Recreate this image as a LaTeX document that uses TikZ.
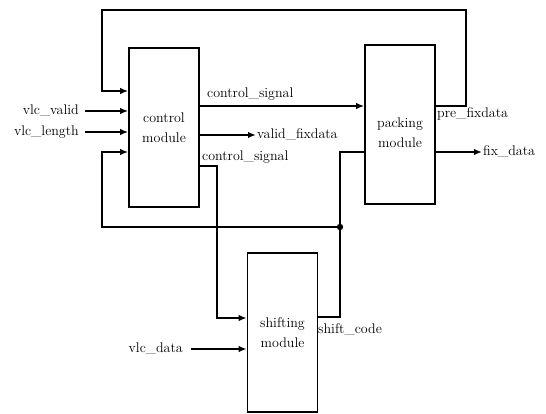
\documentclass[tikz,border=0pt]{standalone}
\usepackage{tikz}
\usetikzlibrary{arrows.meta,positioning,calc}
\newcommand{\blkfont}{\fontsize{14}{20}\selectfont}
\tikzset{
 module/.style={draw, line width=1.6pt, minimum width=70pt, minimum height=159pt, inner sep=0pt, align=center, font=\blkfont},
 wire/.style={line width=1.6pt},
 sig/.style={wire, -{Latex[length=8pt,width=6.5pt]}},
 lbl/.style={font=\blkfont, inner sep=1pt}
}

\begin{document}
\begin{tikzpicture}[x=1pt, y=-1pt]
 \useasboundingbox (0,0) rectangle (546,414);
 \node[module] (ctrl) at (164,127.5) {control\\module};
 \node[module] (pack) at (400,124.5) {};
 \node[lbl, align=center] (packtxt) at ([yshift=-8pt]pack.center) {packing\\module};
 \node[module] (shift) at (282.5,332.5) {shifting\\module};
 \foreach \n/\t/\y in {vvalid/vlc\_valid/111, vlength/vlc\_length/132} {
  \node[lbl, anchor=east] (\n) at (80,\y) {\t};
  \draw[sig, shorten <=5pt] (\n.east) -- (ctrl.west |- \n.east);
 }
 \coordinate (tr) at (466,10);
 \coordinate (tl) at (102,91);
 \draw[sig] (pack.east |- 0,106) -| (tr) -| (tl) -- (ctrl.west |- tl);
 \node[lbl, anchor=north west] (prefix) at (436,106) {pre\_fixdata};
 \draw[sig] (ctrl.east |- 0,106) -- (pack.west |- 0,106);
 \node[lbl, anchor=base west] (csigtop) at (206,98) {control\_signal};
 \node[lbl, anchor=west] (vfix) at (256,135) {valid\_fixdata};
 \draw[sig] (ctrl.east |- vfix.west) -- (vfix.west);
 \node[lbl, anchor=base west] (csigbot) at (201,161) {control\_signal};
 \coordinate (cs) at (217,166);
 \draw[sig] (ctrl.east |- cs) -- (cs) |- (shift.west |- 0,318);
 \node[lbl, anchor=east] (vdata) at (184,349) {vlc\_data};
 \draw[sig, shorten <=7pt] (vdata.east) -- (shift.west |- vdata.east);
 \coordinate (jn) at (340,227);
 \draw[wire] (shift.east |- 0,317) -| (jn) |- (pack.west |- 0,152);
 \fill (jn) circle (3.2pt);
 \node[lbl, anchor=west] (scode) at (317,330) {shift\_code};
 \coordinate (fb) at (102,152);
 \draw[sig] (jn) -| (fb) -- (ctrl.west |- fb);
 \node[lbl, anchor=west] (fix) at (482,152) {fix\_data};
 \draw[sig] (pack.east |- fix.west) -- (fix.west);
\end{tikzpicture}
\end{document}
